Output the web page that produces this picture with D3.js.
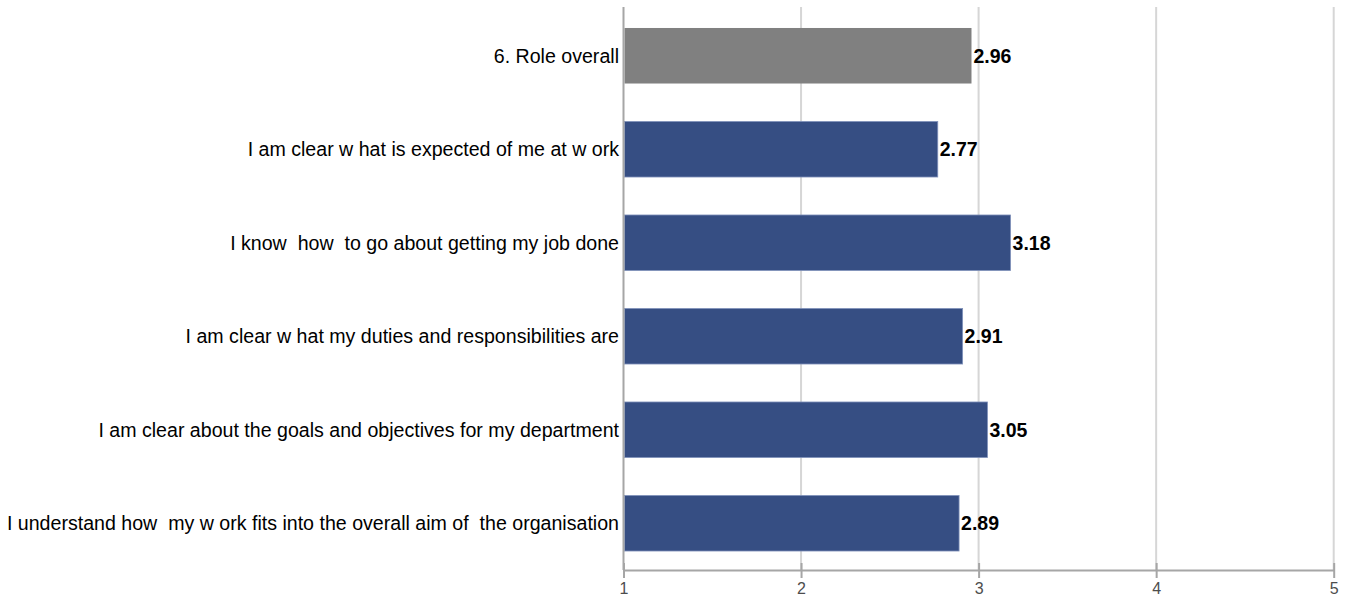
<!DOCTYPE html>
<html>
<head>
<meta charset="utf-8">
<script src="https://cdn.jsdelivr.net/npm/d3@7"></script>
<style>
  html, body { margin: 0; padding: 0; background: #ffffff; }
  svg { display: block; }
  text { font-family: "Liberation Sans", Arial, sans-serif; white-space: pre; }
</style>
</head>
<body>
<svg id="chart" width="1346" height="599"></svg>
<script>
// Survey statements (top to bottom) and their mean scores
const categories = [
  "6. Role overall",
  "I am clear w hat is expected of me at w ork",
  "I know  how  to go about getting my job done",
  "I am clear w hat my duties and responsibilities are",
  "I am clear about the goals and objectives for my department",
  "I understand how  my w ork fits into the overall aim of  the organisation"
];
const scores = [2.96, 2.77, 3.18, 2.91, 3.05, 2.89];
const isSummary = [true, false, false, false, false, false];
const tickValues = [1, 2, 3, 4, 5];

const svg = d3.select("#chart");
const plotLeft = 623.5, plotRight = 1333.7, plotTop = 9, plotBottom = 570;

const x = d3.scaleLinear().domain([1, 5]).range([plotLeft, plotRight]);
const y = d3.scaleBand().domain(categories).range([plotTop, plotBottom])
  .paddingInner(0.406).paddingOuter(0.203);

// vertical gridlines
svg.append("g").selectAll("line").data(tickValues.slice(1)).join("line")
  .attr("x1", d => x(d)).attr("x2", d => x(d))
  .attr("y1", 7).attr("y2", plotBottom)
  .attr("stroke", "#d6d6d6").attr("stroke-width", 2);

// bars
svg.append("g").selectAll("rect").data(scores).join("rect")
  .attr("x", x(1) + 1)
  .attr("y", (d, i) => y(categories[i]))
  .attr("width", d => x(d) - x(1) - 1)
  .attr("height", y.bandwidth())
  .attr("fill", (d, i) => isSummary[i] ? "#808080" : "#364e83")
  .attr("stroke", (d, i) => isSummary[i] ? "none" : "#8092bb")
  .attr("stroke-width", 0.8);

// bottom axis with ticks crossing the axis line
const xAxis = d3.axisBottom(x).tickValues(tickValues).tickFormat(d3.format("d"))
  .tickSizeInner(8).tickSizeOuter(0).tickPadding(5);
const gx = svg.append("g").attr("transform", `translate(0,${plotBottom})`).call(xAxis);
gx.select(".domain").attr("stroke", "#a6a6a6").attr("stroke-width", 2);
gx.selectAll(".tick line").attr("stroke", "#a6a6a6").attr("stroke-width", 2).attr("y1", -7);
gx.selectAll(".tick text")
  .attr("fill", "#4d4d4d")
  .style("font-size", "16px")
  .style("font-family", "'Liberation Sans', Arial, sans-serif");

// vertical axis line
svg.append("line")
  .attr("x1", plotLeft).attr("x2", plotLeft).attr("y1", 7).attr("y2", plotBottom)
  .attr("stroke", "#a6a6a6").attr("stroke-width", 2);

// category labels
svg.append("g").selectAll("text").data(categories).join("text")
  .attr("x", 619)
  .attr("y", d => y(d) + y.bandwidth() / 2)
  .attr("dy", "0.35em")
  .attr("text-anchor", "end")
  .attr("fill", "#000")
  .style("font-size", "19.6px")
  .text(d => d);

// value labels at bar ends
svg.append("g").selectAll("text").data(scores).join("text")
  .attr("x", d => x(d) + 2)
  .attr("y", (d, i) => y(categories[i]) + y.bandwidth() / 2)
  .attr("dy", "0.35em")
  .attr("fill", "#000")
  .style("font-size", "19.5px")
  .style("font-weight", "bold")
  .text(d => d.toFixed(2));
</script>
</body>
</html>
